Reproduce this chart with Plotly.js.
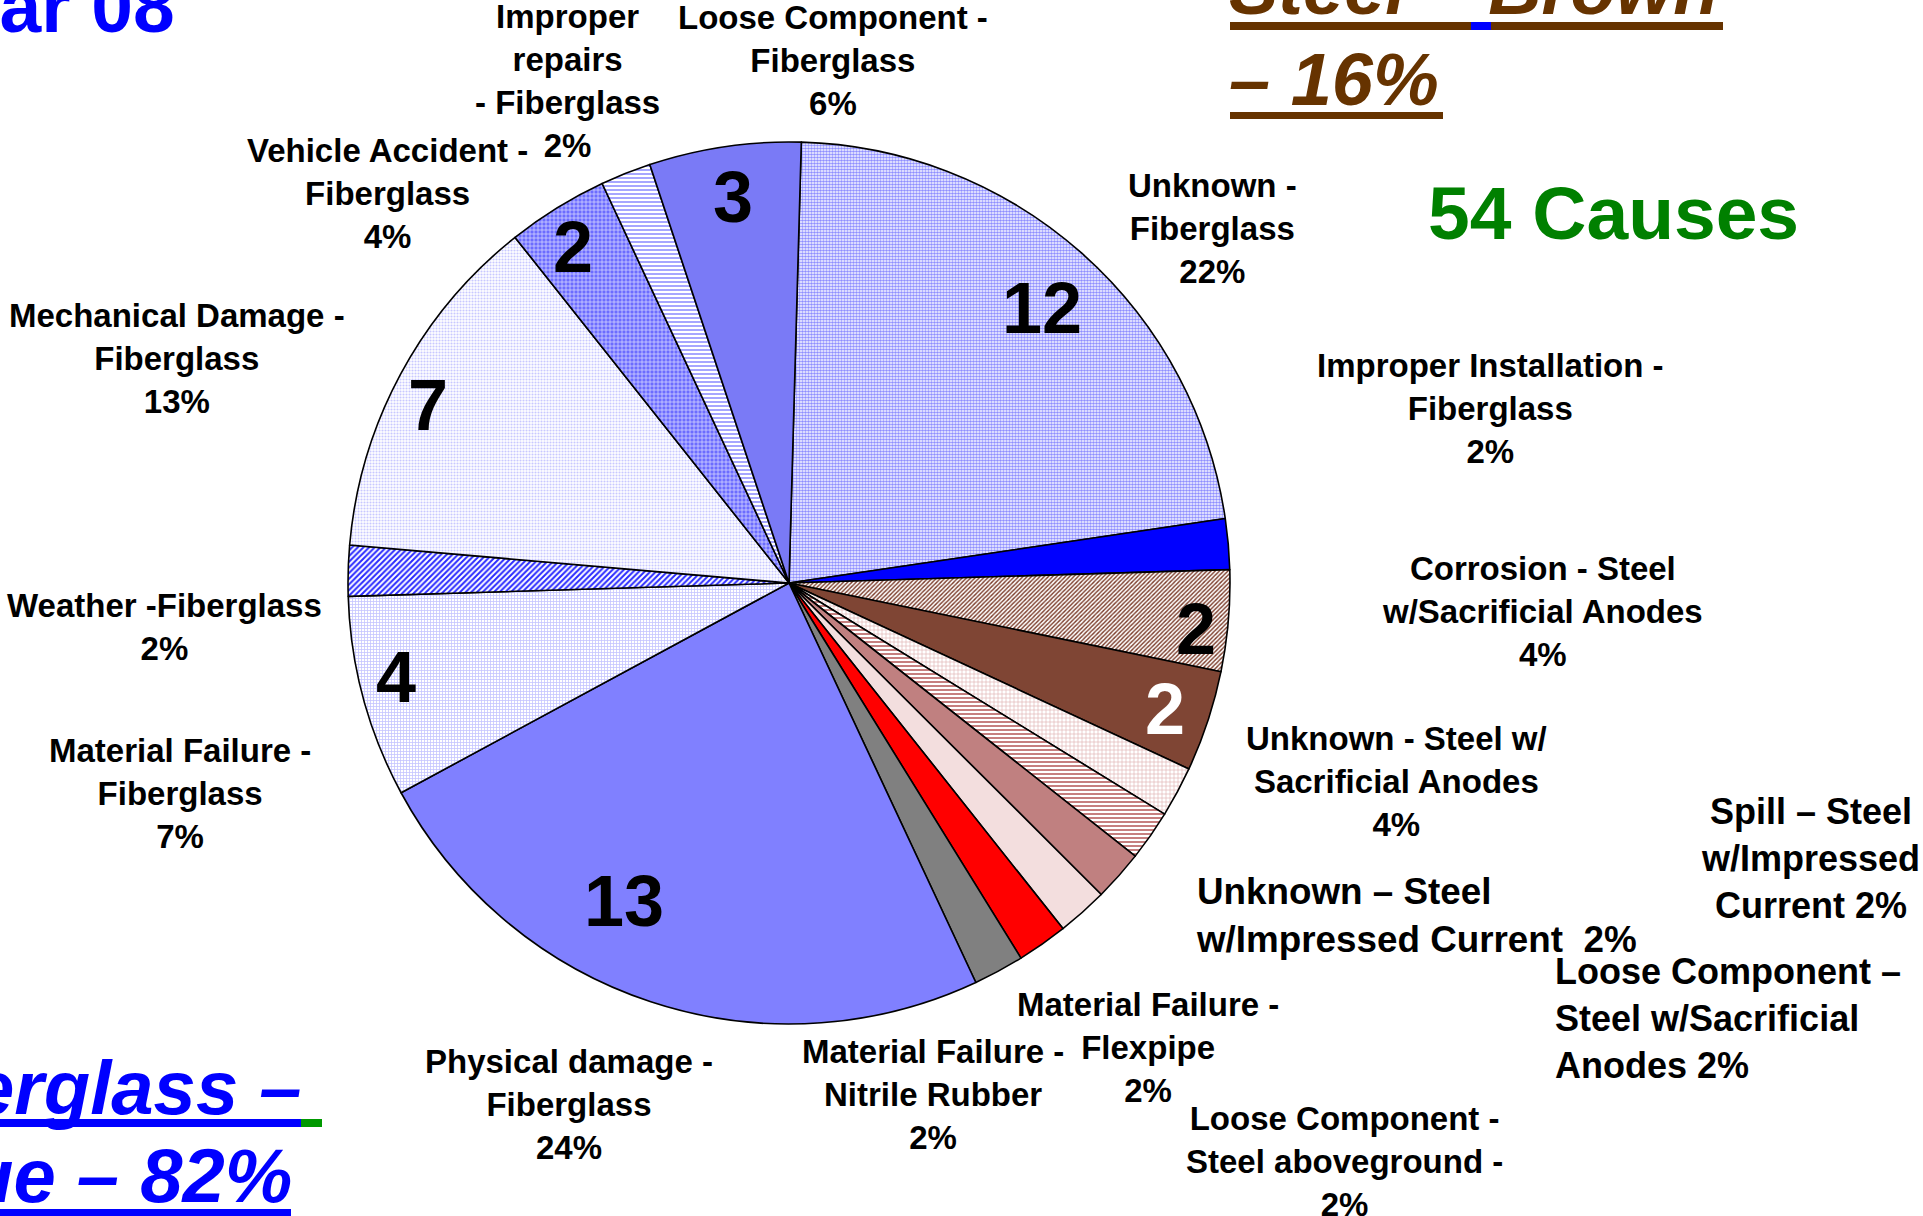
<!DOCTYPE html>
<html><head><meta charset="utf-8">
<script src="https://cdn.plot.ly/plotly-3.0.1.min.js"></script>
<style>html,body{margin:0;padding:0;background:#fff;overflow:hidden}#chart{width:1923px;height:1216px}</style>
</head><body><div id="chart"></div>
<script>
// ---- DATA (clockwise from 12 o'clock) ----
const categories = [
  'Unknown - Fiberglass',
  'Improper Installation - Fiberglass',
  'Corrosion - Steel w/Sacrificial Anodes',
  'Unknown - Steel w/ Sacrificial Anodes',
  'Spill – Steel w/Impressed Current',
  'Unknown – Steel w/Impressed Current',
  'Loose Component – Steel w/Sacrificial Anodes',
  'Loose Component - Steel aboveground',
  'Material Failure - Flexpipe',
  'Material Failure - Nitrile Rubber',
  'Physical damage - Fiberglass',
  'Material Failure - Fiberglass',
  'Weather -Fiberglass',
  'Mechanical Damage - Fiberglass',
  'Vehicle Accident - Fiberglass',
  'Improper repairs - Fiberglass',
  'Loose Component - Fiberglass'
];
const counts = [12, 1, 2, 2, 1, 1, 1, 1, 1, 1, 13, 4, 1, 7, 2, 1, 3];
// label text as laid out on the slide (line breaks) and separator before the percentage
const labelLines = [
  'Unknown -<br>Fiberglass',
  'Improper Installation -<br>Fiberglass',
  'Corrosion - Steel<br>w/Sacrificial Anodes',
  'Unknown - Steel w/<br>Sacrificial Anodes',
  'Spill – Steel<br>w/Impressed<br>Current',
  'Unknown – Steel<br>w/Impressed Current',
  'Loose Component –<br>Steel w/Sacrificial<br>Anodes',
  'Loose Component -<br>Steel aboveground -',
  'Material Failure -<br>Flexpipe',
  'Material Failure -<br>Nitrile Rubber',
  'Physical damage -<br>Fiberglass',
  'Material Failure -<br>Fiberglass',
  'Weather -Fiberglass',
  'Mechanical Damage -<br>Fiberglass',
  'Vehicle Accident -<br>Fiberglass',
  'Improper<br>repairs<br>- Fiberglass',
  'Loose Component -<br>Fiberglass'
];
const percentSep = ['<br>','<br>','<br>','<br>',' ','\u00a0 ',' ','<br>','<br>','<br>','<br>','<br>','<br>','<br>','<br>','<br>','<br>'];
const totalCauses = 54;
const groupTexts = {
  year: 'Year 08',
  steel1: 'Steel – Brown', steel2: '– 16%',
  fg1: 'Fiberglass –', fg2: 'Blue – 82%',
  causes: totalCauses + ' Causes'
};

// ---- STYLE ----
const sliceColors = ['#ffffff','#0000ff','#ffffff','#7f4534','#ffffff','#ffffff','#c08080','#f3dede','#ff0000','#808080','#8080ff','#ffffff','#ffffff','#ffffff','#6c6cff','#ffffff','#7a7af6'];
const patShape = ['.','','/','','+','-','','','','','','+','/','.','+','-',''];
const patFg    = ['#8e8eff','','#7a3a28','','#e0b0b0','#c07070','','','','','','#c4c4ff','#2a2aff','#c8c8ff','#e4e4ff','#9090ff',''];
const patSize  = [3,8,3,8,4,4,8,8,8,8,8,3,4,3,4,4,8];
const patSolid = [0.6,0.3,0.45,0.3,0.3,0.45,0.3,0.3,0.3,0.3,0.3,0.45,0.5,0.4,0.3,0.4,0.3];

const W = 1923, H = 1216;
const px = x => x / W, py = y => 1 - y / H;
const FONT = 'Liberation Sans, Arial, Helvetica, sans-serif';

// label placements (pixel centre x, centre y, xanchor, font size)
const labelPos = [
  [1212, 228, 'center', 33],
  [1490, 408, 'center', 33],
  [1542, 611, 'center', 33],
  [1396, 781, 'center', 33],
  [1810, 858, 'center', 36],
  [1194, 915, 'left', 36.8],
  [1553, 1018, 'left', 36],
  [1344, 1161, 'center', 33],
  [1148, 1047, 'center', 33],
  [933, 1094, 'center', 33],
  [569, 1104, 'center', 33],
  [180, 793, 'center', 33],
  [164, 627, 'center', 33],
  [177, 359, 'center', 33],
  [387, 194, 'center', 33],
  [567, 81, 'center', 33],
  [833, 61, 'center', 33]
];
// count numbers drawn on slices (pixel centre)
const numberPos = {0:[1042,308],2:[1196,629],3:[1165,709],10:[624,901],11:[396,677],13:[428,405],14:[573,247],16:[733,197]};
const numberColor = {3:'#ffffff'};

const total = counts.reduce((a,b)=>a+b,0);
const annotations = [];
categories.forEach((c,i)=>{
  const pct = Math.round(counts[i]/total*100) + '%';
  const p = labelPos[i];
  annotations.push({
    text: labelLines[i] + percentSep[i] + pct,
    x: px(p[0]), y: py(p[1]),
    xanchor: p[2], yanchor:'middle', align: p[2] === 'left' ? 'left' : 'center',
    font:{family:FONT, size:p[3], color:'#000', weight:'bold'}
  });
  if (numberPos[i]) {
    annotations.push({
      text: String(counts[i]),
      x: px(numberPos[i][0]), y: py(numberPos[i][1]),
      xanchor:'center', yanchor:'middle',
      font:{family:FONT, size:72, color: numberColor[i] || '#000', weight:'bold'}
    });
  }
});
// group headings
annotations.push(
  {text:groupTexts.year, x:px(177), y:py(6), xanchor:'right', yanchor:'middle',
   font:{family:FONT, size:75, color:'#0000ff', weight:'bold'}},
  {text:groupTexts.steel1, x:px(1227), y:py(-11), xanchor:'left', yanchor:'middle',
   font:{family:FONT, size:74, color:'#663300', weight:'bold', style:'italic'}},
  {text:groupTexts.steel2, x:px(1227), y:py(80), xanchor:'left', yanchor:'middle',
   font:{family:FONT, size:74, color:'#663300', weight:'bold', style:'italic'}},
  {text:groupTexts.causes, x:px(1613), y:py(213), xanchor:'center', yanchor:'middle',
   font:{family:FONT, size:75, color:'#008000', weight:'bold'}},
  {text:groupTexts.fg1, x:px(304), y:py(1087), xanchor:'right', yanchor:'middle',
   font:{family:FONT, size:76, color:'#0000ff', weight:'bold', style:'italic'}},
  {text:groupTexts.fg2, x:px(294), y:py(1175), xanchor:'right', yanchor:'middle',
   font:{family:FONT, size:76, color:'#0000ff', weight:'bold', style:'italic'}}
);
annotations.forEach(a=>{a.xref='paper'; a.yref='paper'; a.showarrow=false;});

const rect = (x0,x1,y0,y1,col) => ({type:'rect', xref:'paper', yref:'paper',
  x0:px(x0), x1:px(x1), y0:py(y1), y1:py(y0), fillcolor:col, line:{width:0}, layer:'above'});
const shapes = [
  rect(1230,1723,22,30,'#663300'), rect(1471,1491,22,30,'#0000ff'),
  rect(1230,1443,112,119,'#663300'),
  rect(-5,301,1119,1127,'#0000ff'), rect(301,322,1119,1127,'#009900'),
  rect(-5,291,1209,1217,'#0000ff')
];

const cx = 789, cy = 583, r = 441;
const trace = {
  type:'pie', labels:categories, values:counts, sort:false, direction:'clockwise',
  rotation:1.6, textinfo:'none', hoverinfo:'label+value+percent', showlegend:false,
  domain:{x:[px(cx-r), px(cx+r)], y:[py(cy+r), py(cy-r)]},
  marker:{colors:sliceColors, line:{color:'#000', width:1.6},
    pattern:{shape:patShape, fgcolor:patFg, bgcolor:sliceColors, size:patSize, solidity:patSolid, fillmode:'replace'}}
};

Plotly.newPlot('chart',[trace],{
  width:W, height:H, margin:{l:0,r:0,t:0,b:0},
  paper_bgcolor:'#fff', plot_bgcolor:'#fff',
  annotations:annotations, shapes:shapes, showlegend:false
},{displayModeBar:false, staticPlot:true});
</script></body></html>
